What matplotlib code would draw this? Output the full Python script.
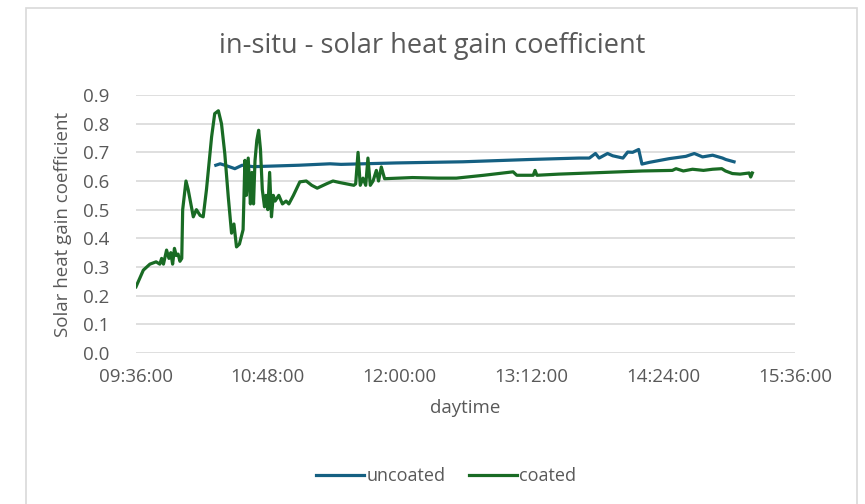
import matplotlib

matplotlib.use("Agg")
import matplotlib.pyplot as plt
from matplotlib.lines import Line2D
from matplotlib.patches import Rectangle

# readings: clock time and SHGC value
uncoated_time = [
    "10:19:36", "10:22:00", "10:26:00", "10:30:00", "10:34:00", "10:40:00",
    "10:50:00", "11:05:00", "11:22:00", "11:28:00", "11:58:00", "12:34:30",
    "13:11:00", "13:27:00", "13:38:00", "13:43:40", "13:47:00", "13:49:00",
    "13:53:36", "13:56:24", "14:02:00", "14:04:36", "14:07:18", "14:10:36",
    "14:12:24", "14:16:24", "14:27:18", "14:36:24", "14:41:00", "14:45:30",
    "14:51:00", "14:56:24", "14:58:12", "15:02:42",
]
uncoated_val = [
    0.655, 0.660, 0.652, 0.643, 0.655, 0.650,
    0.652, 0.655, 0.660, 0.658, 0.663, 0.667,
    0.675, 0.678, 0.680, 0.680, 0.696, 0.680,
    0.696, 0.688, 0.680, 0.701, 0.700, 0.710,
    0.659, 0.665, 0.678, 0.686, 0.696, 0.684,
    0.690, 0.680, 0.675, 0.667,
]

coated_time = [
    "09:36:00", "09:38:00", "09:40:00", "09:43:36", "09:47:00", "09:49:00",
    "09:50:00", "09:51:00", "09:52:42", "09:54:00", "09:55:00", "09:56:00",
    "09:57:00", "09:58:00", "09:59:00", "10:00:00", "10:01:00", "10:01:30",
    "10:03:18", "10:04:30", "10:07:18", "10:09:00", "10:11:00", "10:12:42",
    "10:14:30", "10:17:18", "10:19:00", "10:21:00", "10:22:42", "10:24:30",
    "10:26:24", "10:28:12", "10:29:30", "10:30:54", "10:32:30", "10:34:30",
    "10:35:30", "10:36:18", "10:37:18", "10:38:30", "10:39:18", "10:40:12",
    "10:41:00", "10:42:00", "10:43:00", "10:44:00", "10:45:00", "10:46:12",
    "10:47:00", "10:48:00", "10:49:00", "10:50:00", "10:51:00", "10:52:00",
    "10:54:00", "10:56:00", "10:58:00", "10:59:30", "11:02:00", "11:05:30",
    "11:09:00", "11:12:00", "11:15:00", "11:20:00", "11:23:36", "11:27:00",
    "11:31:00", "11:35:00", "11:36:00", "11:37:18", "11:38:30", "11:40:00",
    "11:41:30", "11:42:42", "11:44:00", "11:45:30", "11:47:18", "11:48:30",
    "11:50:00", "11:51:48", "12:07:00", "12:21:00", "12:31:00", "12:46:00",
    "13:02:00", "13:04:00", "13:13:00", "13:14:00", "13:15:00", "13:27:00",
    "13:44:00", "14:12:42", "14:29:00", "14:31:00", "14:35:00", "14:40:00",
    "14:46:00", "14:51:00", "14:56:00", "14:58:00", "15:01:48", "15:06:00",
    "15:11:00", "15:11:48", "15:12:42",
]
coated_val = [
    0.231, 0.260, 0.289, 0.310, 0.318, 0.310,
    0.330, 0.310, 0.359, 0.330, 0.350, 0.310,
    0.365, 0.340, 0.345, 0.320, 0.330, 0.500,
    0.600, 0.570, 0.475, 0.500, 0.480, 0.475,
    0.570, 0.754, 0.835, 0.845, 0.800, 0.696,
    0.545, 0.418, 0.450, 0.370, 0.380, 0.430,
    0.672, 0.550, 0.680, 0.520, 0.630, 0.520,
    0.670, 0.742, 0.777, 0.710, 0.570, 0.510,
    0.550, 0.500, 0.630, 0.475, 0.550, 0.530,
    0.550, 0.520, 0.530, 0.520, 0.550, 0.597,
    0.600, 0.585, 0.575, 0.590, 0.600, 0.595,
    0.590, 0.585, 0.590, 0.700, 0.585, 0.610,
    0.585, 0.680, 0.585, 0.600, 0.637, 0.600,
    0.649, 0.608, 0.612, 0.610, 0.610, 0.620,
    0.632, 0.620, 0.620, 0.637, 0.620, 0.624,
    0.628, 0.635, 0.637, 0.643, 0.635, 0.641,
    0.637, 0.641, 0.643, 0.635, 0.626, 0.624,
    0.628, 0.614, 0.628,
]

x_ticks = ["09:36:00", "10:48:00", "12:00:00", "13:12:00", "14:24:00", "15:36:00"]
y_ticks = [0.0, 0.1, 0.2, 0.3, 0.4, 0.5, 0.6, 0.7, 0.8, 0.9]


def to_min(s):
    h, m, sec = (int(p) for p in s.split(":"))
    return h * 60 + m + sec / 60


GRAY = "#595959"
plt.rcParams["font.family"] = ["Open Sans", "DejaVu Sans"]

fig = plt.figure(figsize=(8.65, 5.04), dpi=100)
fig.patch.set_facecolor("white")

# chart frame
W, H = 865, 504
fig.patches.append(Rectangle((26 / W, -0.05), (857 - 26) / W, (504 - 8) / H + 0.05,
                             transform=fig.transFigure, fill=False,
                             edgecolor="#d9d9d9", linewidth=1.2))

ax = fig.add_axes([136 / W, 1 - 353 / H, (795 - 136) / W, (353 - 95) / H])
ax.plot([to_min(t) for t in uncoated_time], uncoated_val, color="#156082",
        lw=2.3, solid_joinstyle="round")
ax.plot([to_min(t) for t in coated_time], coated_val, color="#196B24",
        lw=2.3, solid_joinstyle="round")

ax.set_xlim(to_min(x_ticks[0]), to_min(x_ticks[-1]))
ax.set_ylim(0, 0.9)
ax.set_xticks([to_min(t) for t in x_ticks])
ax.set_xticklabels(x_ticks)
ax.set_yticks(y_ticks)
ax.set_yticklabels([f"{v:.1f}" for v in y_ticks])
ax.tick_params(length=0, labelsize=13.5, colors=GRAY)
ax.tick_params(axis="y", pad=19)
ax.tick_params(axis="x", pad=11)
ax.grid(axis="y", color="#d9d9d9", lw=1.2)
ax.set_axisbelow(True)
for sp in ax.spines.values():
    sp.set_visible(False)

ax.set_xlabel("daytime", fontsize=13.5, color=GRAY, labelpad=9)
ax.set_ylabel("Solar heat gain coefficient", fontsize=13.5, color=GRAY, labelpad=8)

fig.text(0.5, 1 - 46 / H, "in-situ - solar heat gain coefficient",
         ha="center", va="center", fontsize=19.5, color=GRAY)

handles = [Line2D([], [], color="#156082", lw=2.3),
           Line2D([], [], color="#196B24", lw=2.3)]
fig.legend(handles, ["uncoated", "coated"], loc="center",
           bbox_to_anchor=(446 / W, 1 - 476 / H), ncol=2, frameon=False,
           fontsize=13, labelcolor=GRAY, handlelength=2.7, handletextpad=0.1,
           columnspacing=1.3)

fig.savefig("out.png", dpi=100, facecolor="white")
